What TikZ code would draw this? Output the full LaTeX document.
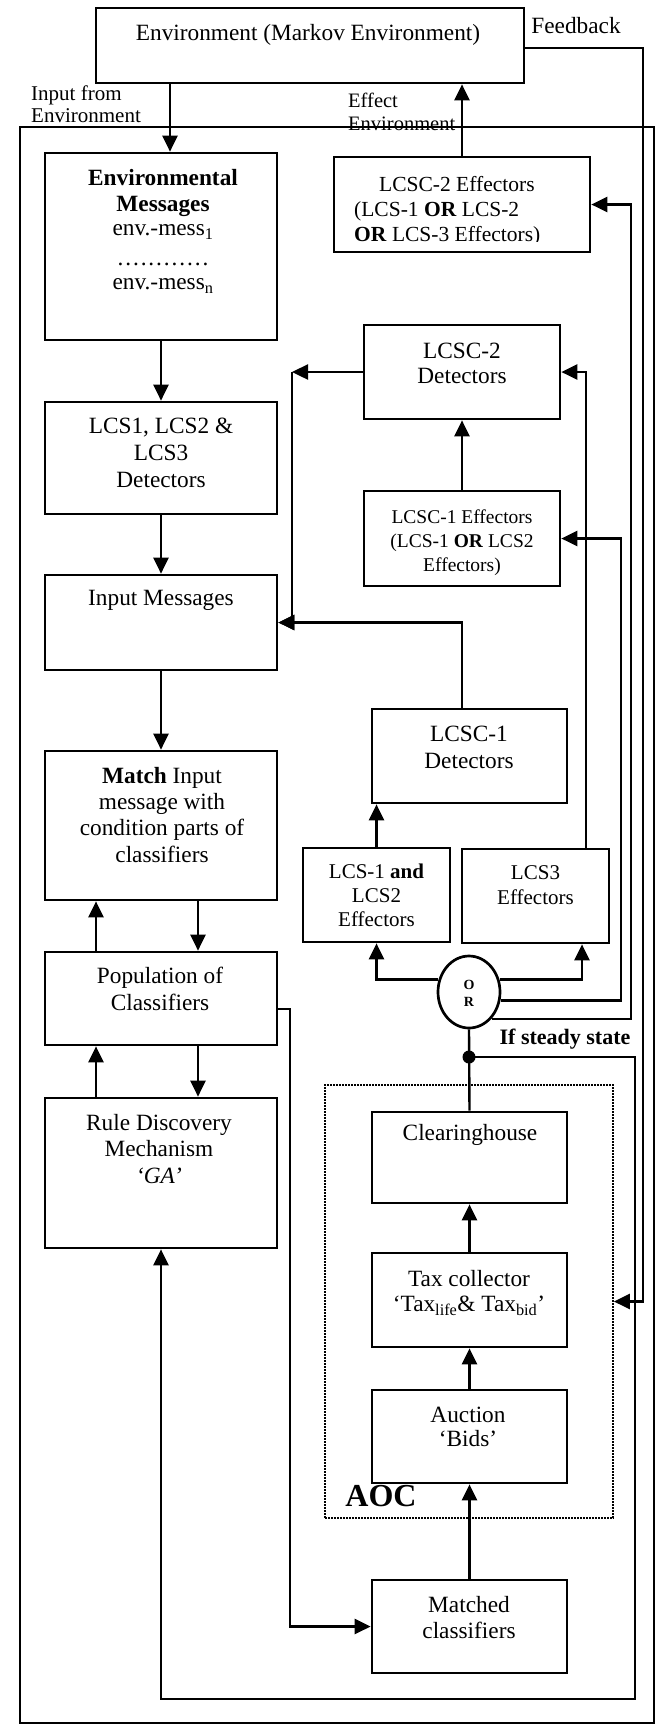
\documentclass[tikz,border=0pt]{standalone}
\usepackage{fontspec}
\setmainfont{Liberation Serif}
\usetikzlibrary{arrows.meta,shapes.geometric,calc}
\newcommand{\dotrow}{.\kern1.9pt.\kern1.9pt.\kern1.9pt.\kern1.9pt.\kern1.9pt.\kern1.9pt.\kern1.9pt.\kern1.9pt.\kern1.9pt.\kern1.9pt.\kern1.9pt.}
\begin{document}
\begin{tikzpicture}[x=1pt,y=-1pt,
  box/.style={draw,line width=2.7pt,inner sep=0pt},
  conn/.style={line width=2.4pt},
  arr/.style={conn,-{Triangle[length=16pt,width=15pt]}},
  txt/.style={inner sep=0pt,align=center,anchor=north,font=\fontsize{23.3}{26}\selectfont},
]
\useasboundingbox (0,0) rectangle (667,1725);
\fill[white] (0,0) rectangle (667,1725);

% frame and boxes
\node[box,line width=2.4pt,minimum width=634pt,minimum height=1596pt] (frame) at (337,925) {};
\node[box,minimum width=428pt,minimum height=75pt] (env) at (310,45.5) {};
\node[box,minimum width=232pt,minimum height=187pt] (envmsg) at (161,246.5) {};
\node[box,minimum width=232pt,minimum height=112pt] (lcsdet) at (161,458) {};
\node[box,minimum width=232pt,minimum height=95pt] (inp) at (161,622.5) {};
\node[box,minimum width=232pt,minimum height=149pt] (match) at (161,825.5) {};
\node[box,minimum width=232pt,minimum height=93pt] (pop) at (161,998.5) {};
\node[box,minimum width=232pt,minimum height=150pt] (rule) at (161,1173) {};
\node[box,minimum width=256pt,minimum height=95pt] (eff2) at (462,204.5) {};
\node[box,minimum width=196pt,minimum height=94pt] (det2) at (462,372) {};
\node[box,minimum width=196pt,minimum height=95pt] (eff1) at (462,538.5) {};
\node[box,minimum width=195pt,minimum height=94pt] (det1) at (469.5,756) {};
\node[box,minimum width=147pt,minimum height=94pt] (eff12) at (376.5,895) {};
\node[box,minimum width=147pt,minimum height=94pt] (eff3) at (535.5,896) {};
\node[draw,line width=1.7pt,dash pattern=on 1.6pt off 1.4pt,inner sep=0pt,minimum width=288pt,minimum height=433pt] (aoc) at (469,1301.5) {};
\node[box,minimum width=195pt,minimum height=91pt] (clear) at (469.5,1157.5) {};
\node[box,minimum width=195pt,minimum height=94pt] (tax) at (469.5,1300) {};
\node[box,minimum width=195pt,minimum height=93pt] (auction) at (469.5,1436.5) {};
\node[box,minimum width=195pt,minimum height=93pt] (matched) at (469.5,1626.5) {};
\node[ellipse,draw,line width=2.7pt,inner sep=0pt,minimum width=62pt,minimum height=72pt] (or) at (469,992) {};

% texts
\node[txt] (envT) at (308,24) {Environment (Markov Environment)};
\node[txt] (fbT) at (576,17) {Feedback};
\node[txt,anchor=north west,align=left,font=\fontsize{21}{22}\selectfont] (inEnvT) at (31,86) {Input from\\Environment};
\node[txt,anchor=north west,align=left,font=\fontsize{20.5}{23}\selectfont] (effEnvT) at (348,93) {Effect\\Environment};
\node[txt] (envmsgT) at (163,169.5) {\textbf{Environmental}\\\textbf{Messages}\\[-2pt]env.-mess\textsubscript{1}\\[4pt]\dotrow\\[-2pt]env.-mess\textsubscript{n}};
\begin{scope}
\clip (340,160) rectangle (588,241.5);
\node[txt,anchor=north west,align=left,font=\fontsize{21.5}{25}\selectfont] (eff2T) at (354,176) {\hspace*{25pt}LCSC-2 Effectors\\(LCS-1 \textbf{OR} LCS-2\\\textbf{OR} LCS-3 Effectors)};
\end{scope}
\node[txt,font=\fontsize{23.3}{25}\selectfont] (det2T) at (462,343) {LCSC-2\\Detectors};
\node[txt,font=\fontsize{23.3}{27}\selectfont] (lcsdetT) at (161,417.5) {LCS1, LCS2 \&\\LCS3\\Detectors};
\node[txt,font=\fontsize{19.5}{24}\selectfont] (eff1T) at (462,510) {LCSC-1 Effectors\\(LCS-1 \textbf{OR} LCS2\\Effectors)};
\node[txt] (inpT) at (161,590) {Input Messages};
\node[txt,font=\fontsize{23.3}{27}\selectfont] (det1T) at (469,726) {LCSC-1\\Detectors};
\node[txt,font=\fontsize{23.3}{26.3}\selectfont] (matchT) at (162,767) {\textbf{Match} Input\\message with\\condition parts of\\classifiers};
\node[txt,font=\fontsize{21}{24}\selectfont] (eff12T) at (376.5,863.5) {LCS-1 \textbf{and}\\LCS2\\Effectors};
\node[txt,font=\fontsize{21}{25}\selectfont] (eff3T) at (535.5,865) {LCS3\\Effectors};
\node[txt,font=\fontsize{23.3}{27}\selectfont] (popT) at (160,967) {Population of\\Classifiers};
\node[txt,font=\fontsize{23.3}{26.5}\selectfont] (ruleT) at (159,1114) {Rule Discovery\\Mechanism\\\textit{‘GA’}};
\node[txt,font=\fontsize{14}{17}\selectfont] (orT) at (469,980.5) {\textbf{O}\\\textbf{R}};
\node[txt,font=\fontsize{22}{26}\selectfont] (steadyT) at (565,1029) {\textbf{If steady state}};
\node[txt] (clearT) at (470,1124) {Clearinghouse};
\node[txt,font=\fontsize{23.3}{25}\selectfont] (taxT) at (469,1270) {Tax collector\\‘Tax\textsubscript{life}\& Tax\textsubscript{bid}’};
\node[txt,font=\fontsize{23.3}{24}\selectfont] (aucT) at (468,1407) {Auction\\‘Bids’};
\node[txt,font=\fontsize{32}{34}\selectfont] (aocT) at (381,1485) {\textbf{AOC}};
\node[txt,font=\fontsize{23.3}{26}\selectfont] (matchedT) at (469,1596) {Matched\\classifiers};

% helper x positions
\coordinate (ix) at (170,0);
\coordinate (ux) at (96,0);
\coordinate (dx) at (198,0);
\coordinate (px) at (290,1009);
\coordinate (kx) at (292,0);
\coordinate (jx) at (462,0);
\coordinate (ax) at (586,0);
\coordinate (bx) at (582,0);
\coordinate (cx) at (621,0);
\coordinate (ddx) at (631,0);
\coordinate (ex) at (635,1699);
\coordinate (fx) at (643,0);

% connectors
\draw[arr] (env.south -| ix) -- (envmsg.north -| ix);
\draw[arr] (eff2.north) -- (eff2.north |- env.south);
\draw[arr] (envmsg.south) -- (lcsdet.north);
\draw[arr] (lcsdet.south) -- (inp.north);
\draw[arr] (inp.south) -- (match.north);
\draw[arr] (pop.north -| ux) -- (match.south -| ux);
\draw[arr] (match.south -| dx) -- (pop.north -| dx);
\draw[arr] (rule.north -| ux) -- (pop.south -| ux);
\draw[arr] (pop.south -| dx) -- (rule.north -| dx);
\draw[arr] (pop.east |- px) -| (matched.west -| px) -- (matched.west);
\draw[arr] (matched.north) -- (auction.south);
\draw[arr] (auction.north) -- (tax.south);
\draw[arr] (tax.north) -- (clear.south);
\draw[conn] (clear.north) -- (or.south);
\draw[arr] (or.158) -| (eff12.south);
\draw[arr] (or.22) -| (eff3.south -| bx);
\draw[arr] (eff3.north -| ax) |- (det2.east);
\draw[arr] (or.-15) -| (eff1.east -| cx) -- (eff1.east);
\draw[arr] (or.-50) -| (eff2.east -| ddx) -- (eff2.east);
\draw[arr] (eff12.north) -- (eff12.north |- det1.south);
\draw[arr] (eff1.north) -- (det2.south);
\draw[arr] (det2.west) -- (det2.west -| kx);
\draw[arr] (det2.west -| kx) |- (inp.east);
\draw[arr] (det1.north -| jx) |- (inp.east);
\node[circle,fill,inner sep=0pt,minimum size=13pt] (dot) at (469,1057) {};
\draw[arr] (dot.center) -| (ex) -| (rule.south);
\draw[arr] ($(env.east)+(0,2.5)$) -| (aoc.east -| fx) -- (aoc.east);
\end{tikzpicture}
\end{document}
